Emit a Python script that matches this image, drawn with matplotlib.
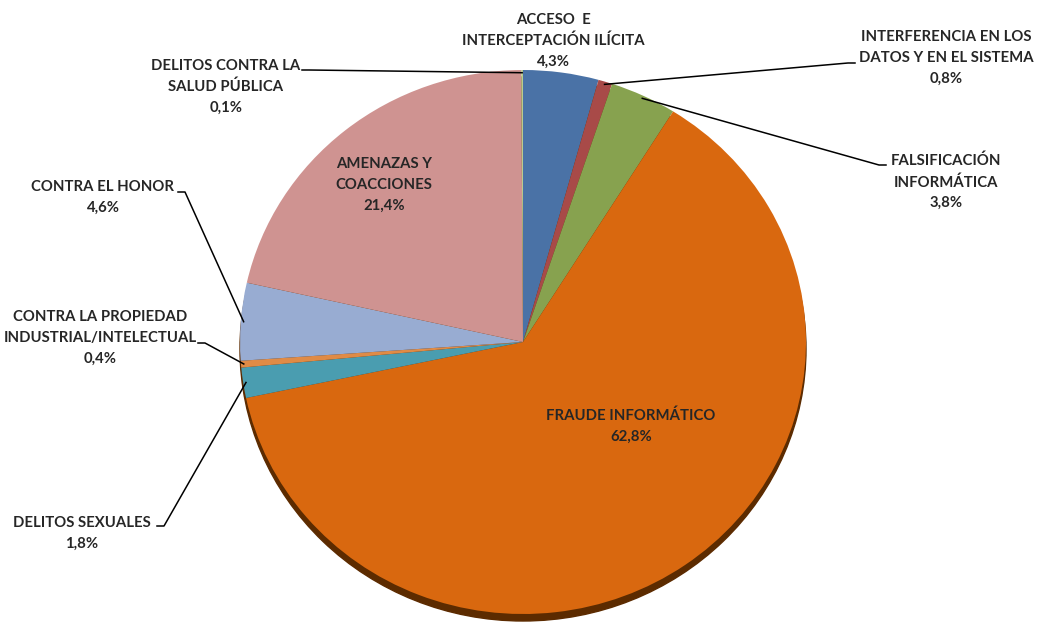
import numpy as np
import matplotlib.pyplot as plt
from matplotlib.patches import Ellipse

categorias = ['ACCESO  E\nINTERCEPTACIÓN ILÍCITA',
              'INTERFERENCIA EN LOS\nDATOS Y EN EL SISTEMA',
              'FALSIFICACIÓN\nINFORMÁTICA',
              'FRAUDE INFORMÁTICO',
              'DELITOS SEXUALES',
              'CONTRA LA PROPIEDAD\nINDUSTRIAL/INTELECTUAL',
              'CONTRA EL HONOR',
              'AMENAZAS Y\nCOACCIONES',
              'DELITOS CONTRA LA\nSALUD PÚBLICA']
porcentajes = [4.3, 0.8, 3.8, 62.8, 1.8, 0.4, 4.6, 21.4, 0.1]
colores = ['#4a72a6', '#a84a48', '#87a24f', '#d9680f', '#4a9db0',
           '#e08b46', '#98acd2', '#cf9391', '#b9cc8f']

# posiciones de las etiquetas (pixeles) y tramo horizontal de la linea guia
pos_texto = [(553, 41), (946, 58), (946, 182), (631, 426), (82, 533),
             (100, 338), (103, 197), (384, 185), (226, 87)]
inicio_guia = [None, (855, 63), (886, 165), None, (157, 526),
               (198, 343), (178, 192), None, (302, 70)]

W, H = 1043, 624
cx, cy, rx, ry = 523, 342, 283, 272

def px(x, y):
    return (x - cx) / rx, (cy - y) / ry

plt.rcParams['font.family'] = ['Lato', 'DejaVu Sans']
fig = plt.figure(figsize=(W / 100, H / 100), dpi=100)
ax = fig.add_axes([0, 0, 1, 1])

# sombra del pastel 3D
ax.add_patch(Ellipse((0, -7 / ry), 2, 2, color='#5c2b00', zorder=0))

wedges, _ = ax.pie(porcentajes, colors=colores, startangle=90, counterclock=False,
                   radius=1, wedgeprops=dict(linewidth=0))
ax.set_aspect('auto')
ax.set_xlim(px(0, 0)[0], px(W, 0)[0])
ax.set_ylim(px(0, H)[1], px(0, 0)[1])
ax.axis('off')

for w, cat, p, pt, g in zip(wedges, categorias, porcentajes, pos_texto, inicio_guia):
    txt = f"{cat}\n{p:.1f}%".replace('.', ',')
    ax.text(*px(*pt), txt, ha='center', va='center', fontsize=10.75, fontweight='bold',
            color='#262626', linespacing=1.6, zorder=5)
    if g is not None:
        ang = np.deg2rad((w.theta1 + w.theta2) / 2)
        ax0, ay0 = np.cos(ang) * 0.99, np.sin(ang) * 0.99
        gx, gy = px(*g)
        codo = px(g[0] + (7 if g[0] < cx else -7), g[1])
        ax.plot([gx, codo[0], ax0], [gy, codo[1], ay0], color='black', lw=1.1, zorder=4)

fig.savefig('out.png', dpi=100)
